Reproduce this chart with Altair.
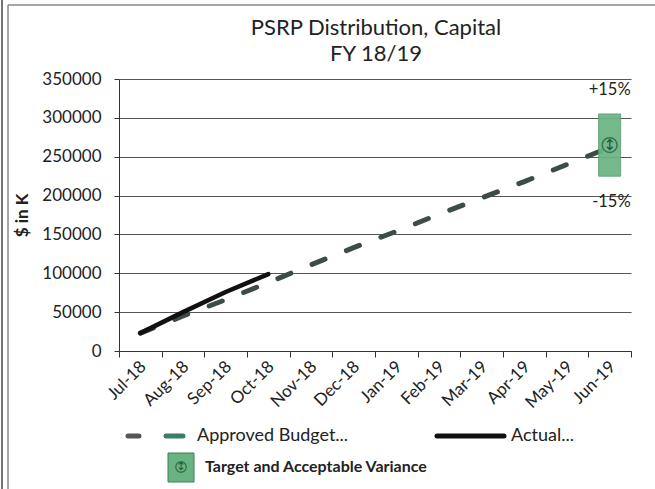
import altair as alt
import pandas as pd

months = ["Jul-18", "Aug-18", "Sep-18", "Oct-18", "Nov-18", "Dec-18",
          "Jan-19", "Feb-19", "Mar-19", "Apr-19", "May-19", "Jun-19"]
budget = [23000, 45000, 66000, 88000, 111000, 133000,
          154000, 176000, 197000, 218000, 240000, 262000]
actual = [23000, 50000, 76000, 99000, None, None,
          None, None, None, None, None, None]
target_month = ["Jun-19"]
target_low = [225000]
target_high = [305000]
target_mid = [265000]
pct_labels = ["+15%", "-15%"]
pct_pos = [336000, 192000]
y_ticks = [0, 50000, 100000, 150000, 200000, 250000, 300000, 350000]
title_lines = ["PSRP Distribution, Capital", "FY 18/19"]

FONT = "Lato"
W, H = 512, 272

df = pd.DataFrame({"month": months, "budget": budget, "actual": actual})
tgt = pd.DataFrame({"month": target_month, "low": target_low,
                    "high": target_high, "mid": target_mid})
pct = pd.DataFrame({"month": target_month * 2, "label": pct_labels, "pos": pct_pos})

xscale = alt.Scale(type="band", domain=months, paddingInner=0, paddingOuter=0)
yscale = alt.Scale(domain=[0, 350000], nice=False)

xaxis = alt.Axis(title=None, labelAngle=-45, tickBand="extent", grid=False,
                 domainColor="#333", tickColor="#333", tickSize=6,
                 labelFont=FONT, labelFontSize=17, labelColor="#222",
                 labelPadding=1, labelOffset=-3)
yaxis = alt.Axis(title="$ in K", values=y_ticks, format="d", grid=True,
                 gridColor="#555", gridWidth=1, domainColor="#333",
                 tickColor="#333", tickSize=5, labelPadding=13,
                 labelOverlap=False,
                 labelFont=FONT, labelFontSize=17, labelColor="#222",
                 titleFont=FONT, titleFontSize=17, titleFontWeight="bold",
                 titleColor="#222", titleX=-97, titleY=H / 2,
                 titleAngle=-90, titleBaseline="middle", titleAlign="center")

X = alt.X("month:N", scale=xscale, axis=xaxis, sort=months, bandPosition=0.5)


def Y(field):
    return alt.Y(field, scale=yscale, axis=yaxis)


base = alt.Chart(df)

budget_line = base.mark_line(color="#3b4d46", strokeWidth=5, strokeDash=[14, 23],
                             strokeCap="round").encode(x=X, y=Y("budget:Q"))

actual_line = base.transform_filter("datum.actual != null").mark_line(
    color="#111", strokeWidth=4.5, strokeCap="round").encode(x=X, y=Y("actual:Q"))

rect = alt.Chart(tgt).mark_bar(size=22, color="#69b383", opacity=0.92,
                               stroke="#5a9e74", strokeWidth=1).encode(
    x=X, y=Y("low:Q"), y2="high:Q")

icon_c = alt.Chart(tgt).mark_point(shape="circle", filled=False, size=220,
                                   color="#1d5a36", strokeWidth=1.5).encode(
    x=X, y=Y("mid:Q"))
icon_t = alt.Chart(tgt).mark_text(text="↕", font="DejaVu Sans", fontSize=15,
                                  color="#1d5a36", baseline="middle").encode(
    x=X, y=Y("mid:Q"))

pct_text = alt.Chart(pct).mark_text(font=FONT, fontSize=16.5, color="#222",
                                    align="right", baseline="middle", dx=21).encode(
    x=X, y=Y("pos:Q"), text="label:N")

one = alt.Chart(pd.DataFrame({"k": [0]}))

# title (drawn as text above the plot)
title1 = one.mark_text(text=title_lines[0], font=FONT, fontSize=22, color="#222",
                       align="center", baseline="middle").encode(
    x=alt.value(W / 2 + 1), y=alt.value(-51))
title2 = one.mark_text(text=title_lines[1], font=FONT, fontSize=22, color="#222",
                       align="center", baseline="middle").encode(
    x=alt.value(W / 2 + 1), y=alt.value(-25))

# legend (drawn below the plot)
LY = 357
leg_d1 = one.mark_rule(color="#555", strokeWidth=5, strokeCap="round").encode(
    x=alt.value(9), x2=alt.value(20), y=alt.value(LY))
leg_d2 = one.mark_rule(color="#3c7d66", strokeWidth=5, strokeCap="round").encode(
    x=alt.value(47), x2=alt.value(64), y=alt.value(LY))
leg_t1 = one.mark_text(text="Approved Budget...", font=FONT, fontSize=18,
                       color="#222", align="left", baseline="middle").encode(
    x=alt.value(78), y=alt.value(LY))
leg_l2 = one.mark_rule(color="#111", strokeWidth=5, strokeCap="round").encode(
    x=alt.value(318), x2=alt.value(385), y=alt.value(LY))
leg_t2 = one.mark_text(text="Actual...", font=FONT, fontSize=18,
                       color="#222", align="left", baseline="middle").encode(
    x=alt.value(392), y=alt.value(LY))
leg_sq = one.mark_rect(color="#69b383", stroke="#3f7d57", strokeWidth=1).encode(
    x=alt.value(49), x2=alt.value(75), y=alt.value(374), y2=alt.value(403))
leg_sqc = one.mark_point(shape="circle", filled=False, size=110, color="#1d5a36",
                         strokeWidth=1.3).encode(x=alt.value(62), y=alt.value(388))
leg_sqt = one.mark_text(text="↕", font="DejaVu Sans", fontSize=11, color="#1d5a36",
                        baseline="middle").encode(x=alt.value(62), y=alt.value(388))
leg_t3 = one.mark_text(text="Target and Acceptable Variance", font=FONT,
                       fontSize=16, fontWeight="bold", color="#222",
                       align="left", baseline="middle").encode(
    x=alt.value(86), y=alt.value(388))

# chart frame lines
fr1 = one.mark_rule(color="#888", strokeWidth=1.5).encode(
    x=alt.value(-111), y=alt.value(-74), y2=alt.value(410))
fr2 = one.mark_rule(color="#888", strokeWidth=1.5).encode(
    x=alt.value(-111), x2=alt.value(536), y=alt.value(-74))
fr3 = one.mark_rule(color="#444", strokeWidth=1.5).encode(
    x=alt.value(-117), y=alt.value(-79), y2=alt.value(410))

chart = alt.layer(
    budget_line, actual_line, rect, icon_c, icon_t, pct_text, title1, title2,
    leg_d1, leg_d2, leg_t1, leg_l2, leg_t2, leg_sq, leg_sqc, leg_sqt, leg_t3,
    fr1, fr2, fr3
).properties(
    width=W, height=H,
    autosize=alt.AutoSizeParams(type="none"),
    padding={"left": 119, "top": 79, "right": 24, "bottom": 138},
    background="white",
).configure_view(stroke=None)

chart.save("out.html", embed_options={"renderer": "svg", "actions": False})
